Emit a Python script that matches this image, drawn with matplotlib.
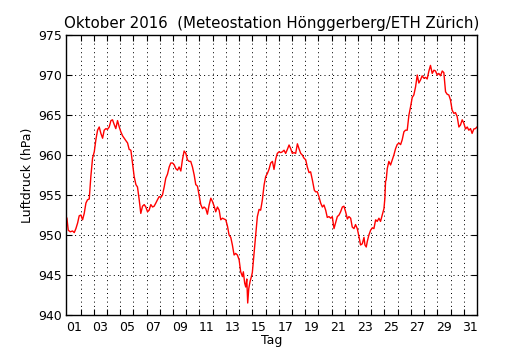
import matplotlib
matplotlib.use("Agg")
import matplotlib.pyplot as plt
from matplotlib.ticker import FixedLocator, FixedFormatter, NullFormatter

# Time in days of October 2016 (1.0 = 1 Oct 00:00), pressure in hPa
days = [
    0.97, 1.07, 1.22, 1.40, 1.525, 1.65, 1.78, 1.90, 2.03, 2.155, 2.28, 2.41, 2.53, 2.66, 2.78, 2.91,
    3.04, 3.16, 3.29, 3.415, 3.54, 3.67, 3.79, 3.92, 4.04, 4.17, 4.30, 4.42, 4.55, 4.67, 4.80, 4.93,
    5.05, 5.18, 5.30, 5.43, 5.56, 5.68, 5.81, 5.93, 6.06, 6.19, 6.31, 6.44, 6.56, 6.69, 6.82, 6.94,
    7.07, 7.19, 7.32, 7.45, 7.57, 7.70, 7.82, 7.95, 8.08, 8.20, 8.33, 8.45, 8.58, 8.71, 8.83, 8.96,
    9.08, 9.21, 9.34, 9.46, 9.59, 9.71, 9.84, 9.97, 10.09, 10.22, 10.34, 10.47, 10.60, 10.72, 10.85,
    10.97, 11.10, 11.23, 11.35, 11.48,
    11.60, 11.73, 11.86, 11.98, 12.11, 12.23, 12.36, 12.49, 12.61, 12.74, 12.86, 12.99, 13.12, 13.24,
    13.37, 13.49, 13.62, 13.74, 13.87, 14.00, 14.12, 14.25, 14.32, 14.42, 14.50, 14.58, 14.65, 14.73,
    14.83, 14.93, 15.00, 15.13, 15.26, 15.38, 15.51, 15.63, 15.76, 15.89, 16.01, 16.14, 16.26, 16.39,
    16.52, 16.64, 16.77, 16.89, 17.02, 17.15, 17.27, 17.40, 17.52, 17.65, 17.78, 17.90, 18.03, 18.15,
    18.28, 18.41, 18.53, 18.66, 18.78, 18.91, 19.04, 19.16, 19.29, 19.41, 19.54, 19.69, 19.79, 19.92,
    20.04, 20.17, 20.30, 20.42, 20.55, 20.67, 20.80, 20.93, 21.05, 21.18, 21.30, 21.43, 21.56, 21.68,
    21.81, 21.93, 22.06,
    22.19, 22.31, 22.44, 22.56, 22.69, 22.81, 22.94, 23.07, 23.19, 23.32, 23.45, 23.52, 23.62, 23.70,
    23.82, 23.95, 24.08, 24.20, 24.33, 24.45, 24.58, 24.70, 24.83, 24.96, 25.03, 25.08, 25.13, 25.21,
    25.33, 25.46, 25.59, 25.71, 25.84, 25.96, 26.09, 26.22, 26.34, 26.47, 26.59, 26.72, 26.85, 26.97,
    27.10, 27.22, 27.35, 27.48, 27.60, 27.73, 27.85, 27.98, 28.11, 28.23, 28.36, 28.48, 28.61, 28.74,
    28.86, 28.99, 29.11, 29.24, 29.37, 29.49, 29.62, 29.74, 29.87, 29.99, 30.12, 30.25, 30.37, 30.50,
    30.63, 30.75, 30.88, 31.00, 31.13, 31.26, 31.38, 31.51, 31.63, 31.76, 31.88, 32.0,
]
pressure = [
    952.1, 950.6, 950.4, 950.5, 950.3, 950.8, 951.5, 952.4, 952.5, 951.9, 952.7, 954.0, 954.4, 954.5, 957.3, 959.6,
    960.4, 961.9, 963.1, 963.5, 962.7, 962.1, 963.1, 963.3, 963.2, 963.5, 964.3, 964.4, 963.8, 963.3, 964.3, 963.5,
    962.9, 962.4, 962.1, 961.8, 961.5, 960.7, 960.6, 959.0, 957.3, 956.3, 956.0, 954.4, 952.7, 953.6, 953.8, 953.5,
    952.9, 953.1, 953.8, 953.5, 953.6, 954.0, 954.4, 954.8, 954.7, 955.0, 956.0, 957.1, 957.6, 958.5, 959.0, 959.0,
    958.8, 958.3, 958.1, 958.5, 958.0, 959.4, 960.5, 960.2, 959.4, 959.2, 959.2, 958.5, 957.5, 956.3, 956.1,
    955.0, 953.8, 953.3, 953.5, 953.3,
    952.6, 953.75, 954.6, 954.2, 953.6, 952.9, 953.5, 953.1, 951.9, 952.1, 952.0, 951.9, 951.1, 950.0,
    949.7, 948.75, 947.5, 947.7, 947.5, 946.9, 945.4, 944.8, 945.4, 944.0, 943.5, 944.5, 941.5, 943.3,
    944.2, 944.8, 945.3, 947.7, 950.2, 952.3, 953.2, 953.1, 954.4, 956.25, 957.3, 957.7, 958.2, 959.0,
    959.2, 958.2, 959.5, 960.2, 960.4, 960.3, 960.4, 960.6, 960.2, 960.7, 961.25, 960.8, 960.2, 960.3,
    960.2, 961.4, 960.8, 960.2, 960.0, 959.6, 959.4, 958.5, 957.8, 957.9, 956.9, 955.6, 955.4, 955.4,
    954.8, 954.0, 953.5, 953.75, 953.1, 952.2, 952.3, 952.1, 952.3, 950.8, 951.5, 952.3, 952.5, 952.9,
    953.5, 953.6, 952.9,
    952.0, 952.3, 952.1, 951.0, 950.8, 951.3, 950.8, 949.8, 948.75, 948.9, 949.7, 948.75, 948.5, 949.2,
    950.0, 950.6, 950.9, 950.8, 951.9, 951.7, 952.1, 951.7, 952.5, 953.3, 954.6, 956.7, 956.9, 958.3,
    959.2, 958.75, 959.4, 960.0, 960.8, 961.3, 961.5, 961.3, 961.9, 962.9, 963.1, 963.1, 965.0, 966.0,
    967.2, 967.5, 968.5, 970.0, 969.0, 969.4, 969.9, 969.6, 969.7, 969.5, 970.5, 971.2, 970.2, 970.6,
    970.5, 970.0, 970.2, 969.9, 970.5, 970.3, 967.9, 967.6, 967.5, 966.9, 965.6, 965.2, 965.3, 964.8,
    963.5, 963.75, 964.4, 964.0, 963.25, 963.5, 963.1, 963.3, 962.7, 963.25, 963.3, 963.5,
]

day_boundaries = list(range(2, 32))
label_days = list(range(1, 32, 2))
label_texts = ["%02d" % d for d in label_days]
y_ticks = [940, 945, 950, 955, 960, 965, 970, 975]

plt.rcParams['font.family'] = ['DejaVu Sans']
plt.rcParams['font.size'] = 9

fig = plt.figure(figsize=(5.3, 3.5), dpi=100)
fig.patch.set_facecolor('white')
ax = fig.add_axes([0.125, 0.1, 0.775, 0.8])

ax.plot(days, pressure, color='red', lw=1.0)

ax.set_xlim(0.92, 32.0)
ax.set_ylim(940, 975)

ax.xaxis.set_major_locator(FixedLocator(day_boundaries))
ax.xaxis.set_major_formatter(NullFormatter())
ax.xaxis.set_minor_locator(FixedLocator([d + 0.5 for d in label_days]))
ax.xaxis.set_minor_formatter(FixedFormatter(label_texts))
ax.set_yticks(y_ticks)

ax.tick_params(axis='both', which='major', direction='in', length=5.6 * 0.72, width=0.8,
               top=True, right=True, labelsize=9)
ax.tick_params(axis='x', which='major', pad=4)
ax.tick_params(axis='x', which='minor', length=0, pad=4, labelsize=9)
ax.tick_params(axis='y', which='major', pad=3)

ax.grid(True, which='major', color='black', linestyle=(0, (1, 3.3)), linewidth=0.72)

for sp in ax.spines.values():
    sp.set_linewidth(1.0)
    sp.set_color('black')

ax.set_xlabel('Tag', fontsize=9, labelpad=0.5)
ax.set_ylabel('Luftdruck (hPa)', fontsize=9, labelpad=3)
ax.set_title('Oktober 2016  (Meteostation Hönggerberg/ETH Zürich)', fontsize=10.8, pad=5)

fig.savefig('out.png', dpi=100, facecolor='white')
